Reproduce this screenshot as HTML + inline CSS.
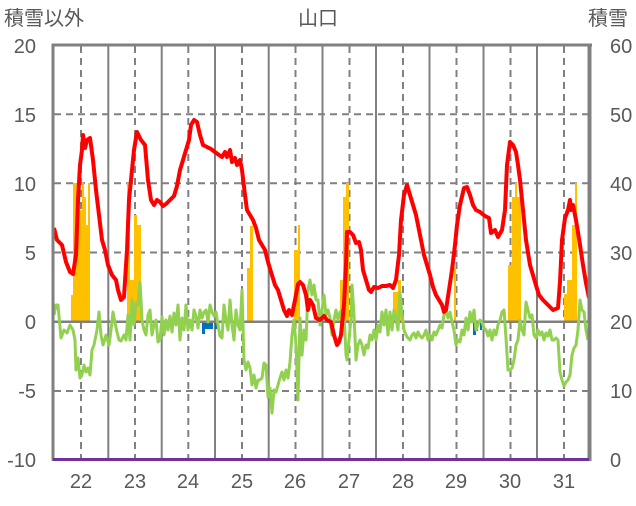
<!DOCTYPE html>
<html><head><meta charset="utf-8"><style>
body{margin:0;background:#fff;}
svg text{font-family:"Liberation Sans","Noto Sans CJK JP",sans-serif;fill:#595959;font-size:20px;}
</style></head><body>
<svg width="636" height="501" viewBox="0 0 636 501" xmlns="http://www.w3.org/2000/svg">
<rect width="636" height="501" fill="#fff"/>
<!-- horizontal dashed grid -->
<g stroke="#808080" stroke-width="2" stroke-dasharray="7,5">
<line x1="54" y1="114.3" x2="589" y2="114.3"/>
<line x1="54" y1="183.3" x2="589" y2="183.3"/>
<line x1="54" y1="252.5" x2="589" y2="252.5"/>
<line x1="54" y1="391" x2="589" y2="391"/>
<line x1="81" y1="46" x2="81" y2="459"/><line x1="135" y1="46" x2="135" y2="459"/><line x1="188.3" y1="46" x2="188.3" y2="459"/><line x1="242" y1="46" x2="242" y2="459"/><line x1="295.5" y1="46" x2="295.5" y2="459"/><line x1="349.5" y1="46" x2="349.5" y2="459"/><line x1="403" y1="46" x2="403" y2="459"/><line x1="456.5" y1="46" x2="456.5" y2="459"/><line x1="510.5" y1="46" x2="510.5" y2="459"/><line x1="564" y1="46" x2="564" y2="459"/>
</g>
<g stroke="#808080" stroke-width="2">
<line x1="108.3" y1="46" x2="108.3" y2="459"/><line x1="161.7" y1="46" x2="161.7" y2="459"/><line x1="215" y1="46" x2="215" y2="459"/><line x1="268.7" y1="46" x2="268.7" y2="459"/><line x1="322.5" y1="46" x2="322.5" y2="459"/><line x1="376" y1="46" x2="376" y2="459"/><line x1="429.5" y1="46" x2="429.5" y2="459"/><line x1="483.5" y1="46" x2="483.5" y2="459"/><line x1="537" y1="46" x2="537" y2="459"/>
</g>
<!-- yellow bars -->
<g fill="#FFC000">
<rect x="71" y="295" width="2" height="27"/><rect x="73" y="183" width="7" height="139"/><rect x="80" y="210" width="2" height="112"/><rect x="82" y="183" width="2" height="139"/><rect x="84" y="197" width="2" height="125"/><rect x="86" y="225" width="2" height="97"/><rect x="88" y="183" width="2" height="139"/>
<rect x="127" y="183" width="3" height="139"/><rect x="130" y="280" width="4" height="42"/><rect x="134" y="215" width="3" height="107"/><rect x="137" y="225" width="4" height="97"/>
<rect x="247" y="268" width="3" height="54"/><rect x="250" y="226" width="3" height="96"/>
<rect x="294" y="250" width="4" height="72"/><rect x="298" y="225" width="2" height="97"/>
<rect x="340" y="280" width="3" height="42"/><rect x="343" y="197" width="3" height="125"/><rect x="346" y="183" width="3" height="139"/>
<rect x="393" y="292" width="5" height="30"/><rect x="398" y="280" width="3" height="42"/>
<rect x="454" y="267" width="2" height="55"/>
<rect x="508" y="265" width="4" height="57"/><rect x="512" y="197" width="3" height="125"/><rect x="515" y="183" width="2" height="139"/><rect x="517" y="197" width="4" height="125"/>
<rect x="564" y="294" width="3" height="28"/><rect x="567" y="280" width="5" height="42"/><rect x="572" y="225" width="3" height="97"/><rect x="575" y="183" width="2" height="139"/>
</g>
<!-- blue bars -->
<g fill="#0070C0">
<rect x="178" y="322" width="2" height="7"/><rect x="202" y="322" width="3" height="12"/><rect x="205" y="322" width="8" height="7"/><rect x="215" y="322" width="2" height="7"/>
<rect x="473" y="322" width="3" height="13"/><rect x="476" y="322" width="2" height="9"/><rect x="480" y="322" width="2" height="8"/>
</g>
<line x1="54" y1="321.7" x2="589" y2="321.7" stroke="#808080" stroke-width="2.5"/>
<!-- green -->
<polyline fill="none" stroke="#92D050" stroke-width="3" stroke-linejoin="round" points="54,315 56,305 58,305 61,338 64,330 67,333 70,325 73,330 75,340 76,370 78,358 80,378 82,375 84,365 86,372 88,368 90,375 92,350 94,345 97,330 99,312 101,335 103,345 106,335 109,345 111,330 113,312 115,323 117,332 119,340 121,341 124,335 126,340 128,315 130,340 132,300 134,325 136,303 138,305 140,282 142,320 144,330 146,335 148,315 150,310 152,335 154,325 156,320 158,342 160,340 162,317 164,335 166,320 168,330 170,316 172,332 174,313 176,325 178,305 180,340 182,318 184,330 186,305 188,330 190,320 192,330 194,310 196,316 198,328 200,310 202,318 204,312 206,310 208,322 210,305 212,312 214,316 216,312 218,325 220,336 222,338 224,305 226,320 228,330 230,300 232,325 234,340 236,310 238,325 240,330 242,290 244,360 246,370 248,362 250,368 252,385 254,375 256,388 258,380 260,380 262,378 264,363 266,365 268,397 270,388 272,413 274,390 276,392 278,385 280,378 282,372 284,380 286,370 288,378 290,362 292,335 294,320 296,345 298,400 300,318 302,355 304,330 306,340 308,290 310,280 312,295 314,285 316,300 318,300 320,325 322,310 324,295 326,315 328,310 330,318 332,335 334,320 336,310 338,320 340,312 342,310 344,312 346,355 347,360 349,340 351,318 352,285 354,315 356,360 358,345 360,340 362,345 364,355 366,345 368,348 370,335 372,340 374,330 376,340 378,325 380,332 382,312 384,325 386,310 388,335 390,312 392,330 394,310 396,318 398,330 400,292 402,315 404,330 406,335 408,338 410,340 412,335 414,333 416,338 418,332 420,336 422,338 424,335 426,330 428,340 430,335 432,340 434,332 436,335 438,330 440,325 442,328 444,315 446,310 448,318 450,312 452,322 454,330 456,345 458,340 460,342 462,330 464,335 466,318 468,330 470,312 472,322 474,310 476,330 478,325 480,320 482,322 484,328 486,330 488,336 490,330 492,340 494,330 496,335 498,325 500,320 502,312 504,310 506,338 508,370 510,370 512,368 514,360 516,345 518,340 520,320 522,330 524,335 526,302 528,310 530,318 532,315 534,335 536,338 538,330 540,335 542,332 544,340 546,333 548,336 550,330 552,340 554,340 556,338 558,340 560,372 562,380 564,386 566,382 568,380 570,375 572,355 574,348 576,345 578,330 580,300 582,310 584,312 586,330 588,340"/>
<!-- red -->
<polyline fill="none" stroke="#FF0000" stroke-width="4" stroke-linejoin="round" points="54,228 57,240 62,245 66,262 70,272 73,274 76,255 78,200 80,165 82,150 83,135 85,148 87,140 90,138 93,160 96,190 99,215 102,240 105,250 108,265 112,275 116,280 118,290 121,300 124,297 127,250 129,200 132,170 134,150 137,132 141,140 145,145 148,180 151,200 154,205 157,200 160,202 163,206 166,204 170,200 174,196 177,186 180,170 183,160 186,150 189,140 191,125 194,120 197,122 200,135 203,145 207,147 211,149 215,152 219,155 222,157 225,152 227,157 230,150 232,162 235,158 237,165 240,160 242,170 245,195 247,210 250,215 253,220 256,228 259,240 262,245 265,250 268,262 271,272 275,285 278,290 281,300 284,310 287,316 289,310 292,315 295,300 298,284 300,282 303,285 306,295 308,310 310,300 313,305 316,318 320,320 324,316 327,320 331,322 334,335 337,345 339,342 341,335 344,305 346,265 347,232 350,232 353,235 356,243 359,242 361,250 363,270 366,280 369,290 371,292 374,287 378,288 382,286 386,286 390,285 393,288 396,280 399,255 401,220 404,195 407,185 410,195 413,205 416,215 420,235 424,255 427,265 430,275 433,287 436,295 439,300 442,305 444,312 446,310 449,290 452,270 455,245 457,225 460,205 464,188 467,187 470,195 473,205 476,210 480,212 485,216 489,218 491,233 495,230 498,237 502,230 505,210 507,165 510,142 513,145 516,152 518,165 520,180 523,210 526,240 530,265 535,282 539,295 543,300 548,305 553,310 558,308 560,282 562,240 565,218 568,210 570,200 571,210 573,205 576,220 580,245 583,265 586,283 589,298"/>
<!-- frame -->
<line x1="53" y1="44" x2="53" y2="461" stroke="#808080" stroke-width="3"/>
<line x1="52" y1="45" x2="592" y2="45" stroke="#808080" stroke-width="3"/>
<line x1="589.5" y1="44" x2="589.5" y2="461" stroke="#808080" stroke-width="4"/>
<line x1="53" y1="459.5" x2="589" y2="459.5" stroke="#7030A0" stroke-width="3"/>
<!-- labels -->
<text x="4" y="25">積雪以外</text>
<text x="318" y="25" text-anchor="middle">山口</text>
<text x="588" y="25">積雪</text>
<g text-anchor="end">
<text x="36" y="53">20</text><text x="36" y="122">15</text><text x="36" y="191">10</text><text x="36" y="260">5</text><text x="36" y="329">0</text><text x="36" y="398">-5</text><text x="36" y="467">-10</text>
</g>
<g text-anchor="start">
<text x="610" y="53">60</text><text x="610" y="122">50</text><text x="610" y="191">40</text><text x="610" y="260">30</text><text x="610" y="329">20</text><text x="610" y="398">10</text><text x="610" y="467">0</text>
</g>
<g text-anchor="middle">
<text x="81" y="488">22</text><text x="135" y="488">23</text><text x="188" y="488">24</text><text x="242" y="488">25</text><text x="295" y="488">26</text><text x="349" y="488">27</text><text x="403" y="488">28</text><text x="456" y="488">29</text><text x="510" y="488">30</text><text x="564" y="488">31</text>
</g>
</svg>
</body></html>
